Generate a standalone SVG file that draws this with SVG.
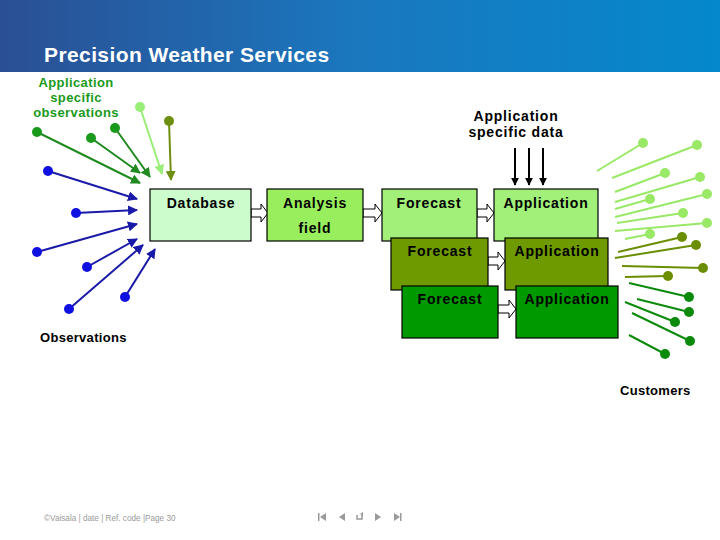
<svg xmlns="http://www.w3.org/2000/svg" width="720" height="540" viewBox="0 0 720 540">
<defs>
<linearGradient id="hdr" x1="0" y1="0" x2="1" y2="0">
<stop offset="0" stop-color="#2b4f94"/>
<stop offset="0.5" stop-color="#1a78bf"/>
<stop offset="1" stop-color="#0588cc"/>
</linearGradient>
<marker id="ab" viewBox="0 0 10 10" refX="9" refY="5" markerWidth="5" markerHeight="5" orient="auto" markerUnits="strokeWidth"><path d="M0,0 L10,5 L0,10 Z" fill="#1a1aa8"/></marker>
<marker id="ag" viewBox="0 0 10 10" refX="9" refY="5" markerWidth="5" markerHeight="5" orient="auto" markerUnits="strokeWidth"><path d="M0,0 L10,5 L0,10 Z" fill="#1f8a1f"/></marker>
<marker id="al" viewBox="0 0 10 10" refX="9" refY="5" markerWidth="5" markerHeight="5" orient="auto" markerUnits="strokeWidth"><path d="M0,0 L10,5 L0,10 Z" fill="#99ee77"/></marker>
<marker id="ao" viewBox="0 0 10 10" refX="9" refY="5" markerWidth="5" markerHeight="5" orient="auto" markerUnits="strokeWidth"><path d="M0,0 L10,5 L0,10 Z" fill="#6f8f10"/></marker>
<marker id="ak" viewBox="0 0 10 10" refX="9" refY="5" markerWidth="4" markerHeight="4" orient="auto" markerUnits="strokeWidth"><path d="M0,0 L10,5 L0,10 Z" fill="#000"/></marker>
</defs>
<style>
text{font-family:"Liberation Sans",Arial,sans-serif;}
.box{stroke:#000;stroke-width:1.2;}
.lbl{font-size:14px;font-weight:bold;letter-spacing:0.8px;text-anchor:middle;fill:#000;}
.hol{fill:#fff;stroke:#000;stroke-width:1;}
.bl{stroke:#1a1aa8;stroke-width:2;fill:none;marker-end:url(#ab);}
.bd{fill:#1010e0;}
.gl{stroke:#1f8a1f;stroke-width:2;fill:none;marker-end:url(#ag);}
.gd{fill:#1a9a1a;}
.ll{stroke:#99ee77;stroke-width:2;fill:none;marker-end:url(#al);}
.ld{fill:#99ee77;}
.ol{stroke:#6f8f10;stroke-width:2;fill:none;marker-end:url(#ao);}
.od{fill:#6f8f10;}
.kl{stroke:#000;stroke-width:2;fill:none;marker-end:url(#ak);}
.rl{stroke:#99e866;stroke-width:2;}
.rd{fill:#99e866;}
.ro{stroke:#6b8e00;stroke-width:2;}
.rod{fill:#6b8e00;}
.rg{stroke:#0b8a0b;stroke-width:2;}
.rgd{fill:#0b8a0b;}
.nav{fill:#9a9a9a;}
</style>

<g id="header">
<rect x="0" y="0" width="720" height="72" fill="url(#hdr)"/>
<text x="44" y="62" font-size="21" font-weight="bold" fill="#fff" letter-spacing="0.4">Precision Weather Services</text>
</g>

<g id="label-app-obs" font-size="13" font-weight="bold" fill="#1a9a1a" text-anchor="middle" letter-spacing="0.4">
<text x="76" y="87">Application</text>
<text x="76" y="102">specific</text>
<text x="76" y="117">observations</text>
</g>
<g id="label-app-data">
<text class="lbl" x="516" y="121">Application</text>
<text class="lbl" x="516" y="137">specific data</text>
</g>
<g id="label-observations"><text x="40" y="342" font-size="13" font-weight="bold" letter-spacing="0.3">Observations</text></g>
<g id="label-customers"><text x="620" y="395" font-size="13" font-weight="bold" letter-spacing="0.3">Customers</text></g>

<g id="connectors">
<line class="bl" x1="48" y1="171" x2="137" y2="199"/>
<line class="bl" x1="76" y1="213" x2="137" y2="210"/>
<line class="bl" x1="37" y1="252" x2="137" y2="224"/>
<line class="bl" x1="87" y1="267" x2="137" y2="239"/>
<line class="bl" x1="69" y1="309" x2="143" y2="245"/>
<line class="bl" x1="125" y1="297" x2="155" y2="249"/>
<line class="gl" x1="37" y1="132" x2="140" y2="183"/>
<line class="gl" x1="91" y1="138" x2="140" y2="173"/>
<line class="gl" x1="115" y1="128" x2="150" y2="177"/>
<line class="ll" x1="140" y1="107" x2="162" y2="174"/>
<line class="ol" x1="169" y1="121" x2="171" y2="180"/>
<line class="kl" x1="515" y1="148" x2="515" y2="185"/>
<line class="kl" x1="529" y1="148" x2="529" y2="185"/>
<line class="kl" x1="543" y1="148" x2="543" y2="185"/>
<polygon class="hol" points="251,209 261,209 261,204 268,213 261,222 261,217 251,217"/>
<polygon class="hol" points="363,209 375,209 375,204 382,213 375,222 375,217 363,217"/>
<polygon class="hol" points="477,209 487,209 487,204 494,213 487,222 487,217 477,217"/>
<polygon class="hol" points="488,257 498,257 498,252 505,261 498,270 498,265 488,265"/>
<polygon class="hol" points="498,305 509,305 509,300 516,309 509,318 509,313 498,313"/>
<line class="rl" x1="597" y1="171" x2="643" y2="143"/>
<line class="rl" x1="612" y1="178" x2="697" y2="145"/>
<line class="rl" x1="615" y1="192" x2="665" y2="173"/>
<line class="rl" x1="615" y1="202" x2="700" y2="177"/>
<line class="rl" x1="615" y1="209" x2="650" y2="199"/>
<line class="rl" x1="615" y1="217" x2="707" y2="194"/>
<line class="rl" x1="617" y1="223" x2="683" y2="213"/>
<line class="rl" x1="615" y1="231" x2="707" y2="223"/>
<line class="rl" x1="625" y1="239" x2="650" y2="234"/>
<line class="ro" x1="618" y1="252" x2="682" y2="237"/>
<line class="ro" x1="615" y1="258" x2="696" y2="245"/>
<line class="ro" x1="622" y1="266" x2="703" y2="268"/>
<line class="ro" x1="625" y1="277" x2="668" y2="276"/>
<line class="rg" x1="629" y1="283" x2="689" y2="297"/>
<line class="rg" x1="637" y1="299" x2="689" y2="312"/>
<line class="rg" x1="625" y1="302" x2="675" y2="322"/>
<line class="rg" x1="632" y1="313" x2="690" y2="341"/>
<line class="rg" x1="629" y1="335" x2="665" y2="354"/>
</g>

<g id="obs-dots">
<circle class="bd" cx="48" cy="171" r="5"/>
<circle class="bd" cx="76" cy="213" r="5"/>
<circle class="bd" cx="37" cy="252" r="5"/>
<circle class="bd" cx="87" cy="267" r="5"/>
<circle class="bd" cx="69" cy="309" r="5"/>
<circle class="bd" cx="125" cy="297" r="5"/>
<circle class="gd" cx="37" cy="132" r="5"/>
<circle class="gd" cx="91" cy="138" r="5"/>
<circle class="gd" cx="115" cy="128" r="5"/>
<circle class="ld" cx="140" cy="107" r="5"/>
<circle class="od" cx="169" cy="121" r="5"/>
</g>

<g id="customer-dots">
<circle class="rd" cx="643" cy="143" r="5"/>
<circle class="rd" cx="697" cy="145" r="5"/>
<circle class="rd" cx="665" cy="173" r="5"/>
<circle class="rd" cx="700" cy="177" r="5"/>
<circle class="rd" cx="650" cy="199" r="5"/>
<circle class="rd" cx="707" cy="194" r="5"/>
<circle class="rd" cx="683" cy="213" r="5"/>
<circle class="rd" cx="707" cy="223" r="5"/>
<circle class="rd" cx="650" cy="234" r="5"/>
<circle class="rod" cx="682" cy="237" r="5"/>
<circle class="rod" cx="696" cy="245" r="5"/>
<circle class="rod" cx="703" cy="268" r="5"/>
<circle class="rod" cx="668" cy="276" r="5"/>
<circle class="rgd" cx="689" cy="297" r="5"/>
<circle class="rgd" cx="689" cy="312" r="5"/>
<circle class="rgd" cx="675" cy="322" r="5"/>
<circle class="rgd" cx="690" cy="341" r="5"/>
<circle class="rgd" cx="665" cy="354" r="5"/>
</g>

<g id="database">
<rect class="box" x="150" y="189" width="101" height="52" fill="#ccfccc"/>
<text class="lbl" x="201" y="208">Database</text>
</g>
<g id="analysis">
<rect class="box" x="267" y="189" width="96" height="52" fill="#99ee5e"/>
<text class="lbl" x="315" y="208">Analysis</text>
<text class="lbl" x="315" y="233">field</text>
</g>
<g id="forecast1">
<rect class="box" x="382" y="189" width="95" height="52" fill="#a2f07a"/>
<text class="lbl" x="429" y="208">Forecast</text>
</g>
<g id="application1">
<rect class="box" x="494" y="189" width="104" height="52" fill="#a2f07a"/>
<text class="lbl" x="546" y="208">Application</text>
</g>
<g id="forecast2">
<rect class="box" x="391" y="238" width="97" height="52" fill="#6e9a00"/>
<text class="lbl" x="440" y="256">Forecast</text>
</g>
<g id="application2">
<rect class="box" x="505" y="238" width="103" height="52" fill="#6e9a00"/>
<text class="lbl" x="557" y="256">Application</text>
</g>
<g id="forecast3">
<rect class="box" x="402" y="286" width="96" height="52" fill="#009a00"/>
<text class="lbl" x="450" y="304">Forecast</text>
</g>
<g id="application3">
<rect class="box" x="516" y="286" width="102" height="52" fill="#009a00"/>
<text class="lbl" x="567" y="304">Application</text>
</g>

<g id="footer">
<text x="44" y="521" font-size="8.2" fill="#9a9a9a">©Vaisala | date | Ref. code |Page 30</text>
<rect class="nav" x="318" y="513" width="1.5" height="8"/>
<polygon class="nav" points="326,513 326,521 320,517"/>
<polygon class="nav" points="345,513 345,521 339,517"/>
<path d="M357,515 v4 h5 v-4" fill="none" stroke="#9a9a9a" stroke-width="1.5"/>
<polygon class="nav" points="363,512 363,516 360,514"/>
<polygon class="nav" points="375,513 375,521 381,517"/>
<polygon class="nav" points="394,513 394,521 400,517"/>
<rect class="nav" x="400" y="513" width="1.5" height="8"/>
</g>
</svg>
